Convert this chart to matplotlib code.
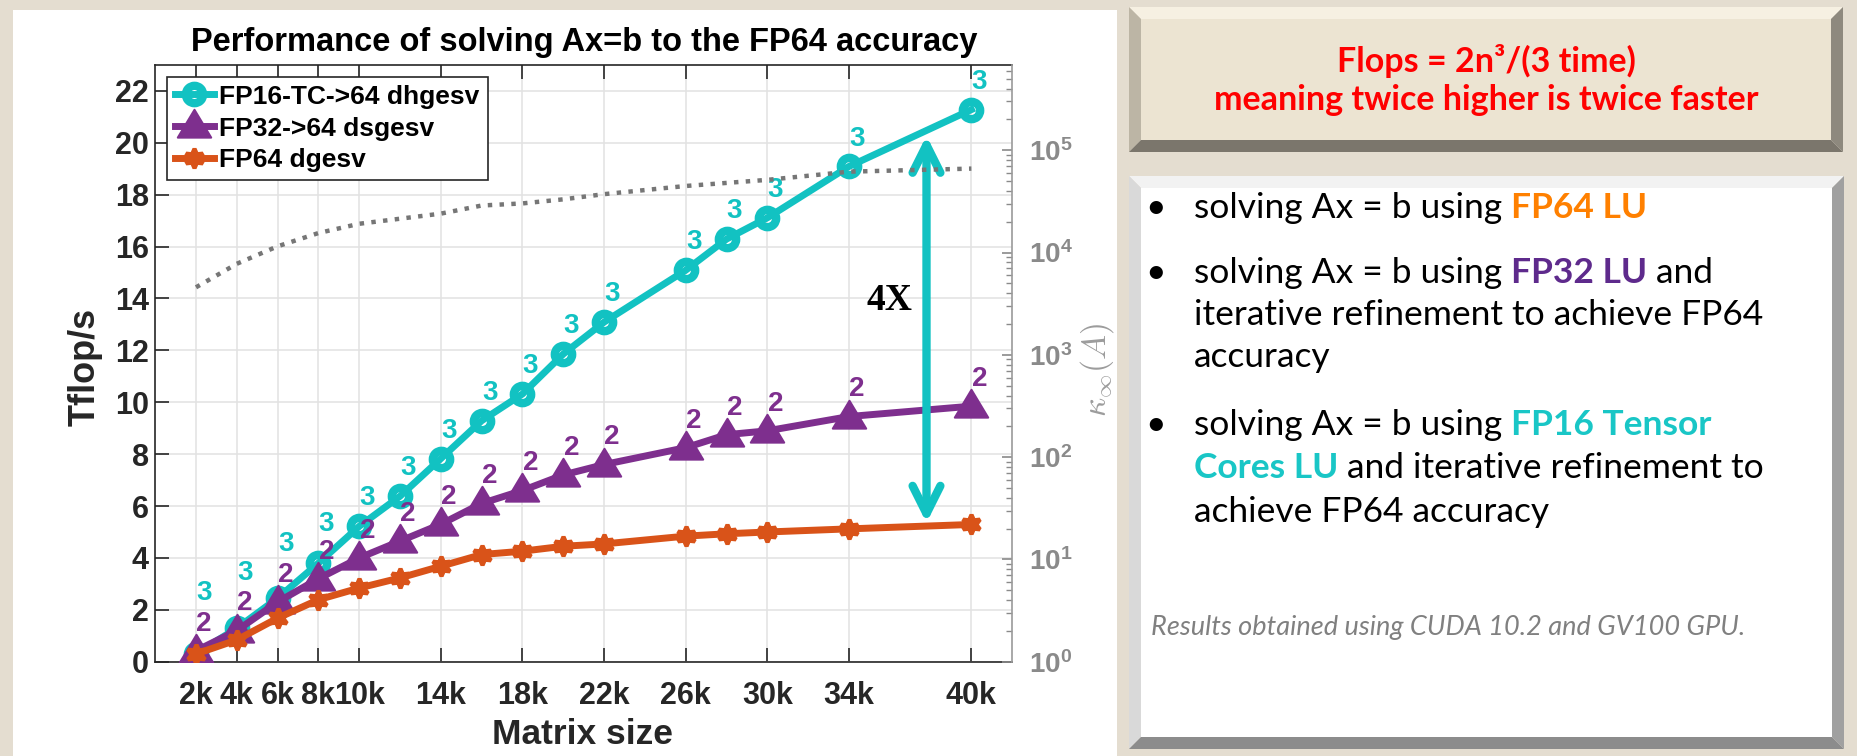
import numpy as np
import matplotlib
matplotlib.use('Agg')
import matplotlib.pyplot as plt
from matplotlib.patches import Polygon, FancyArrowPatch
from matplotlib.path import Path
from matplotlib.markers import MarkerStyle
from matplotlib.ticker import FixedLocator, FixedFormatter, LogLocator, NullFormatter

# ---------------- data ----------------
matrix_size = [2000, 4000, 6000, 8000, 10000, 12000, 14000, 16000,
               18000, 20000, 22000, 26000, 28000, 30000, 34000, 40000]
fp16_tc_tflops = [0.31, 1.29, 2.45, 3.80, 5.22, 6.38, 7.83, 9.29,
                  10.32, 11.86, 13.09, 15.09, 16.29, 17.11, 19.09, 21.28]
fp32_tflops = [0.42, 1.20, 2.30, 3.20, 4.00, 4.65, 5.30, 6.10,
               6.60, 7.20, 7.60, 8.25, 8.75, 8.90, 9.45, 9.85]
fp64_tflops = [0.30, 0.84, 1.68, 2.39, 2.84, 3.23, 3.68, 4.13,
               4.26, 4.45, 4.54, 4.84, 4.93, 5.00, 5.12, 5.29]
cond_number = [4570, 7760, 11500, 15500, 19100, 21400, 24000, 28800,
               30200, 33100, 37200, 44700, 47900, 51300, 61700, 66100]
fp16_iters = [3, 3, 3, 3, 3, 3, 3, 3, 3, 3, 3, 3, 3, 3, 3, 3]
fp32_iters = [2, 2, 2, 2, 2, 2, 2, 2, 2, 2, 2, 2, 2, 2, 2, 2]
series_names = ['FP16-TC->64 dhgesv', 'FP32->64 dsgesv', 'FP64 dgesv']

xtick_values = [2000, 4000, 6000, 8000, 10000, 14000, 18000, 22000,
                26000, 30000, 34000, 40000]
xtick_labels = ['2k', '4k', '6k', '8k', '10k', '14k', '18k', '22k',
                '26k', '30k', '34k', '40k']
ytick_values = [0, 2, 4, 6, 8, 10, 12, 14, 16, 18, 20, 22]
ytick_labels = ['0', '2', '4', '6', '8', '10', '12', '14', '16', '18', '20', '22']
kappa_ticks = [1, 10, 100, 1000, 10000, 100000]
kappa_tick_labels = [r'$\mathbf{10^{0}}$', r'$\mathbf{10^{1}}$', r'$\mathbf{10^{2}}$',
                     r'$\mathbf{10^{3}}$', r'$\mathbf{10^{4}}$', r'$\mathbf{10^{5}}$']
arrow_size = 37800

title = 'Performance of solving Ax=b to the FP64 accuracy'
box_title_1 = 'Flops = 2n\u00b3/(3 time)'
box_title_2 = 'meaning twice higher is twice faster'
note = 'Results obtained using CUDA 10.2 and GV100 GPU.'

# ---------------- style ----------------
W, H, DPI = 1858, 756, 100
CYAN = '#12C2C2'
PURPLE = '#7E2F8E'
ORANGE = '#D95319'
DARK = '#262626'
GRAYAX = '#8a8a8a'

plt.rcParams['font.family'] = ['Liberation Sans', 'DejaVu Sans']
plt.rcParams['mathtext.fontset'] = 'custom'
plt.rcParams['mathtext.rm'] = 'Liberation Sans'
plt.rcParams['mathtext.bf'] = 'Liberation Sans:bold'
plt.rcParams['mathtext.it'] = 'Liberation Sans:italic'

fig = plt.figure(figsize=(W / DPI, H / DPI), dpi=DPI, facecolor='#e4ddd0')


def fx(x):
    return x / W


def fy(y):
    return 1 - y / H


def poly(pts, color, z=-5):
    fig.add_artist(Polygon([(fx(x), fy(y)) for x, y in pts], closed=True,
                           transform=fig.transFigure, facecolor=color,
                           edgecolor='none', zorder=z))


# white slide panel for the chart
poly([(13, 10), (1117, 10), (1117, 756), (13, 756)], 'white', z=-9)


def bevel_box(x0, y0, x1, y1, b, face, top, left, bottom, right):
    poly([(x0, y0), (x1, y0), (x1 - b, y0 + b), (x0 + b, y0 + b)], top)
    poly([(x0, y0), (x0 + b, y0 + b), (x0 + b, y1 - b), (x0, y1)], left)
    poly([(x0, y1), (x0 + b, y1 - b), (x1 - b, y1 - b), (x1, y1)], bottom)
    poly([(x1, y0), (x1, y1), (x1 - b, y1 - b), (x1 - b, y0 + b)], right)
    poly([(x0 + b, y0 + b), (x1 - b, y0 + b), (x1 - b, y1 - b), (x0 + b, y1 - b)], face)


bevel_box(1129, 7, 1843, 152, 12, '#ece4d2', '#f6f0e2', '#bcb5a5', '#7b766c', '#8e897e')
bevel_box(1129, 176, 1844, 749, 12, 'white', '#f2f2f2', '#d9d9d9', '#8c8c8c', '#a0a0a0')

# ---------------- chart ----------------
ax = fig.add_axes([155.2 / W, 1 - 661.7 / H, 857 / W, 596.7 / H])
ax.set_facecolor('white')
ax.set_axisbelow(True)
ax.set_xlim(0, 42000)
ax.set_ylim(0, 23)

tri_path = Path([(0, 0.6), (-0.6, -0.4), (0.6, -0.4), (0, 0.6)],
                [Path.MOVETO, Path.LINETO, Path.LINETO, Path.CLOSEPOLY])
tri_marker = MarkerStyle(tri_path)

ax.plot(matrix_size, fp16_tc_tflops, color=CYAN, lw=5, marker='o', ms=12.5,
        mew=6, mfc='none', mec=CYAN, zorder=3, label=series_names[0])
ax.plot(matrix_size, fp32_tflops, color=PURPLE, lw=5, marker=tri_marker, ms=24,
        mew=1.5, mfc=PURPLE, mec=PURPLE, zorder=4, label=series_names[1])
ax.plot(matrix_size, fp64_tflops, color=ORANGE, lw=5, marker=(6, 1, 0), ms=14,
        mew=3, mfc=ORANGE, mec=ORANGE, zorder=5, label=series_names[2])

# iteration-count labels ("2" above the FP32 point, "3" above the FP16 point,
# pushed above the "2" where the two points are close)
pt_per_unit = (ax.transData.transform((0, 1))[1] - ax.transData.transform((0, 0))[1]) * 72 / DPI
LBL = 20
for xs, v16, v32, n16, n32 in zip(matrix_size, fp16_tc_tflops, fp32_tflops,
                                  fp16_iters, fp32_iters):
    off2 = 19.5
    ax.annotate(str(n32), (xs, v32), xytext=(5.8, off2), textcoords='offset points',
                ha='center', va='center', fontsize=LBL, fontweight='bold',
                color=PURPLE, zorder=8)
    gap = 22 if v16 - v32 < 0.3 else 20
    off3 = max(20, (v32 - v16) * pt_per_unit + off2 + gap)
    ax.annotate(str(n16), (xs, v16), xytext=(5.8, off3), textcoords='offset points',
                ha='center', va='center', fontsize=LBL, fontweight='bold',
                color=CYAN, zorder=8)

# speed-up arrow
a_top = np.interp(arrow_size, matrix_size, fp16_tc_tflops) - 0.2
a_bot = np.interp(arrow_size, matrix_size, fp64_tflops) + 0.12
arr = FancyArrowPatch((arrow_size, a_bot), (arrow_size, a_top),
                      arrowstyle='<->,head_length=20,head_width=10',
                      mutation_scale=1, lw=6, color=CYAN, shrinkA=0, shrinkB=0,
                      zorder=9)
ax.add_patch(arr)
ratio = fp16_tc_tflops[-1] / fp64_tflops[-1]
ax.annotate(f'{round(ratio)}X', (arrow_size, (a_top + a_bot) / 2),
            xytext=(-26.5, 20.5), textcoords='offset points', ha='center', va='center',
            fontsize=27, fontweight='bold', family='Liberation Serif', color='black',
            zorder=9)

ax.set_xticks(xtick_values, labels=xtick_labels, fontweight='bold')
ax.set_yticks(ytick_values, labels=ytick_labels, fontweight='bold')
ax.tick_params(axis='both', direction='in', top=True, right=False, length=10,
               width=1.2, colors=DARK, labelsize=22)
ax.tick_params(axis='x', pad=14)
ax.tick_params(axis='y', pad=4.5)
ax.grid(True, color='#e2e2e2', lw=1.1)
for s in ['left', 'bottom', 'top']:
    ax.spines[s].set_color(DARK)
    ax.spines[s].set_linewidth(1.2)
ax.spines['right'].set_visible(False)

ax.set_title(title, fontsize=23.5, fontweight='bold', y=1 + 22 / 596.7,
             va='center', pad=0)
ax.set_xlabel('Matrix size', fontsize=25.5, fontweight='bold', color=DARK, va='center')
ax.xaxis.set_label_coords(0.4986, -0.1228)
ax.set_ylabel('Tflop/s', fontsize=26, fontweight='bold', color=DARK, va='center')
ax.yaxis.set_label_coords((85 - 155.2) / 857, (661.7 - 367) / 596.7)

leg = ax.legend(loc='upper left', bbox_to_anchor=(11.5 / 857, 1 - 11.7 / 596.7),
                borderaxespad=0, prop={'weight': 'bold', 'size': 19},
                handlelength=1.5, handletextpad=0.2, labelspacing=0.3,
                borderpad=0.3, frameon=True, fancybox=False, edgecolor=DARK,
                framealpha=1)
leg.get_frame().set_linewidth(1.2)

# right axis: condition number
ax2 = ax.twinx()
ax2.plot(matrix_size, cond_number, color='#767676', ls=':', lw=3.2, zorder=2)
ax2.set_yscale('log')
ax2.set_ylim(1, 10 ** 5.833)
ax2.yaxis.set_major_locator(FixedLocator(kappa_ticks))
ax2.yaxis.set_major_formatter(FixedFormatter(kappa_tick_labels))
ax2.yaxis.set_minor_locator(LogLocator(base=10, subs=np.arange(2, 10), numticks=30))
ax2.yaxis.set_minor_formatter(NullFormatter())
ax2.tick_params(axis='y', which='major', direction='in', length=7, width=1.2,
                colors=GRAYAX, labelsize=20, pad=12)
ax2.tick_params(axis='y', which='minor', direction='in', length=4, width=1.0,
                colors=GRAYAX)
for s in ['left', 'bottom', 'top']:
    ax2.spines[s].set_visible(False)
ax2.spines['right'].set_color('#9a9a9a')
ax2.spines['right'].set_linewidth(1.2)
ax2.set_ylabel(r'$\kappa_\infty(A)$', fontsize=24, color='#9c9c9c',
               math_fontfamily='cm', va='center', rotation=90)
ax2.yaxis.set_label_coords((1096.7 - 155.2) / 857, (661.7 - 370) / 596.7)

# ---------------- right panel text ----------------
renderer = fig.canvas.get_renderer()
FONT = 'Lato'


def text_width(s, **kw):
    t1 = fig.text(0, 0, s + '|', **kw)
    w1 = t1.get_window_extent(renderer).width
    t1.remove()
    t2 = fig.text(0, 0, '|', **kw)
    w2 = t2.get_window_extent(renderer).width
    t2.remove()
    return w1 - w2


def rich(x, y, pieces, size, style='normal'):
    for s, color, weight in pieces:
        kw = dict(fontsize=size, family=FONT, fontweight=weight, fontstyle=style)
        fig.text(fx(x), fy(y), s, color=color, ha='left', va='baseline', zorder=5, **kw)
        x += text_width(s, **kw)


fig.text(fx(1486), fy(71.7), box_title_1, ha='center', va='baseline', color='#ff0000',
         fontsize=24.5, fontweight='bold', family=FONT, zorder=5)
fig.text(fx(1486), fy(110), box_title_2, ha='center', va='baseline', color='#ff0000',
         fontsize=24.5, fontweight='bold', family=FONT, zorder=5)

BLACK = 'black'
TORANGE = '#FF8000'
TPURPLE = '#5E2A8C'
TCYAN = '#19C6C6'
BS = 25.5
for yb in [218.3, 283.3, 435]:
    fig.text(fx(1156), fy(yb), '\u2022', ha='center', va='baseline', fontsize=BS,
             family=FONT, color=BLACK, zorder=5)
rich(1194, 218.3, [('solving Ax = b using ', BLACK, 'normal'), ('FP64 LU', TORANGE, 'bold')], BS)
rich(1194, 283.3, [('solving Ax = b using ', BLACK, 'normal'), ('FP32 LU', TPURPLE, 'bold'),
                   (' and', BLACK, 'normal')], BS)
rich(1194, 325, [('iterative refinement to achieve FP64', BLACK, 'normal')], BS)
rich(1194, 366.7, [('accuracy', BLACK, 'normal')], BS)
rich(1194, 435, [('solving Ax = b using ', BLACK, 'normal'), ('FP16 Tensor', TCYAN, 'bold')], BS)
rich(1194, 478.3, [('Cores LU', TCYAN, 'bold'), (' and iterative refinement to', BLACK, 'normal')], BS)
rich(1194, 521.7, [('achieve FP64 accuracy', BLACK, 'normal')], BS)
rich(1151, 635, [(note, '#808080', 'normal')], 19.5, style='italic')

fig.savefig('out.png', dpi=DPI, facecolor=fig.get_facecolor())
